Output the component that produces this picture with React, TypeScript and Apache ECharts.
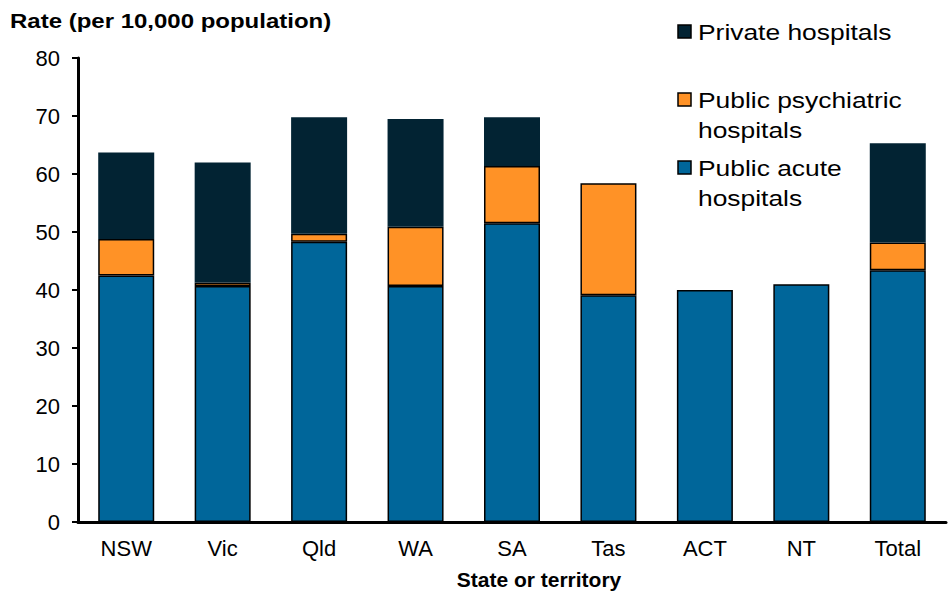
import React, { useEffect, useRef } from "react";
import * as echarts from "echarts";

const categories = ["NSW", "Vic", "Qld", "WA", "SA", "Tas", "ACT", "NT", "Total"];
const publicAcute = [42.5, 40.7, 48.3, 40.7, 51.5, 39.1, 40.0, 41.0, 43.4];
const publicPsych = [6.3, 0.6, 1.4, 10.2, 9.9, 19.3, 0, 0, 4.8];
const privateHosp = [14.9, 20.7, 20.1, 18.6, 8.4, 0, 0, 0, 17.1];

const FONT = "'Liberation Sans', Arial, sans-serif";
const C_ACUTE = "#00669a";
const C_PSYCH = "#ff9226";
const C_PRIV = "#022333";

export default function App() {
  const ref = useRef<HTMLDivElement>(null);
  useEffect(() => {
    const chart = echarts.init(ref.current!, null, { renderer: "svg" });
    const legendItems = [
      { color: C_PRIV, text: "Private hospitals", y: 32 },
      { color: C_PSYCH, text: "Public psychiatric\nhospitals", y: 100 },
      { color: C_ACUTE, text: "Public acute\nhospitals", y: 168 },
    ];
    const graphic: any[] = [
      {
        type: "text",
        x: 10,
        y: 11,
        scaleX: 1.2,
        style: { text: "Rate (per 10,000 population)", font: `bold 20px ${FONT}`, fill: "#000", textVerticalAlign: "top" },
      },
    ];
    legendItems.forEach((it) => {
      graphic.push({
        type: "rect",
        shape: { x: 678, y: it.y - 7, width: 13, height: 13 },
        style: { fill: it.color, stroke: "#000", lineWidth: 1.5 },
      });
      graphic.push({
        type: "text",
        x: 698,
        y: it.y - 15,
        scaleX: 1.2,
        style: { text: it.text, font: `22px ${FONT}`, fill: "#000", lineHeight: 30, textVerticalAlign: "top" },
      });
    });
    chart.setOption({
      animation: false,
      grid: { left: 78, right: 3, top: 58, height: 464, outerBoundsMode: "none", containLabel: false },
      graphic,
      xAxis: {
        type: "category",
        data: categories,
        name: "State or territory",
        nameLocation: "middle",
        nameGap: 47,
        nameTextStyle: { fontFamily: FONT, fontSize: 21, fontWeight: "bold", color: "#000", padding: [0, 0, 0, 54] },
        axisLine: { lineStyle: { color: "#000", width: 3 } },
        axisTick: { show: false },
        axisLabel: { fontFamily: FONT, fontSize: 22, color: "#000", margin: 15 },
      },
      yAxis: {
        type: "value",
        min: 0,
        max: 80,
        interval: 10,
        axisLine: { show: true, lineStyle: { color: "#000", width: 3 } },
        axisTick: { show: true, length: 6, lineStyle: { color: "#000", width: 2 } },
        splitLine: { show: false },
        axisLabel: { fontFamily: FONT, fontSize: 22, color: "#000", margin: 18 },
      },
      series: [
        {
          name: "Public acute hospitals",
          type: "bar",
          stack: "s",
          data: publicAcute,
          barWidth: 56,
          itemStyle: { color: C_ACUTE, borderColor: "#000", borderWidth: 1.5 },
        },
        {
          name: "Public psychiatric hospitals",
          type: "bar",
          stack: "s",
          data: publicPsych.map((v) => (v === 0 ? "-" : v)),
          barWidth: 56,
          itemStyle: { color: C_PSYCH, borderColor: "#000", borderWidth: 1.5 },
        },
        {
          name: "Private hospitals",
          type: "bar",
          stack: "s",
          data: privateHosp.map((v) => (v === 0 ? "-" : v)),
          barWidth: 56,
          itemStyle: { color: C_PRIV },
        },
      ],
    });
    return () => chart.dispose();
  }, []);
  return (
    <div
      ref={ref}
      style={{ position: "fixed", left: 0, top: 0, width: 949, height: 594, background: "#fff" }}
    />
  );
}
